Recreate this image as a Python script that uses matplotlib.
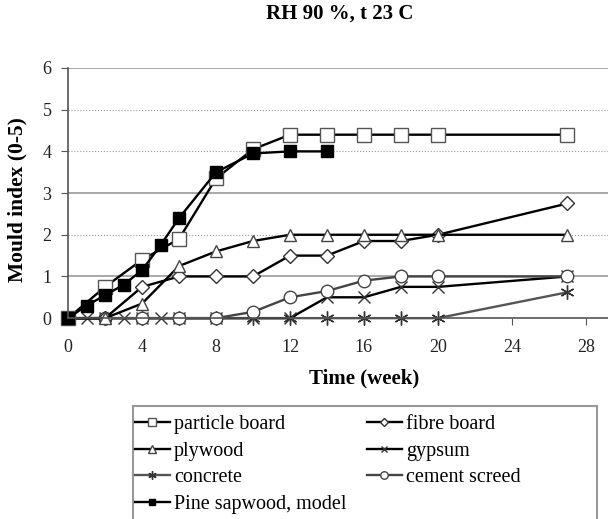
import matplotlib.pyplot as plt
from matplotlib.patches import Rectangle

plt.rcParams['font.family'] = ['Liberation Serif', 'DejaVu Serif']

# weeks and mould index per material
weeks_a = [0, 2, 4, 6, 8, 10, 12, 14, 16, 18, 20, 27]
particle = [0, 0.75, 1.4, 1.9, 3.35, 4.05, 4.4, 4.4, 4.4, 4.4, 4.4, 4.4]
fibre = [0, 0, 0.75, 1.0, 1.0, 1.0, 1.5, 1.5, 1.85, 1.85, 2.0, 2.75]
plywood = [0, 0, 0.35, 1.25, 1.6, 1.85, 2.0, 2.0, 2.0, 2.0, 2.0, 2.0]
cement = [0, 0, 0, 0, 0, 0.15, 0.5, 0.65, 0.9, 1.0, 1.0, 1.0]
concrete = [0, 0, 0, 0, 0, 0, 0, 0, 0, 0, 0, 0.62]

weeks_g = [0, 1, 2, 3, 4, 5, 6, 8, 10, 12, 14, 16, 18, 20, 27]
gypsum = [0, 0, 0, 0, 0, 0, 0, 0, 0, 0, 0.5, 0.5, 0.75, 0.75, 1.0]

weeks_p = [0, 1, 2, 3, 4, 5, 6, 8, 10, 12, 14]
pine = [0, 0.3, 0.55, 0.8, 1.15, 1.75, 2.4, 3.5, 3.95, 4.0, 4.0]

fig = plt.figure(figsize=(6.08, 5.19), dpi=100)
ax = fig.add_axes([0.112, 0.387, 0.888, 0.482])

# gridlines (mixed solid / dotted as in the scan)
for yv, ls in [(1, '-'), (2, ':'), (3, '-'), (4, ':'), (5, ':'), (6, '-')]:
    ax.axhline(yv, color='#999999', lw=1.2 if ls == '-' else 0.8, ls=ls, zorder=0)

kw = dict(lw=1.7, clip_on=False, markerfacecolor='white', markeredgewidth=1.0)
l_conc, = ax.plot(weeks_a, concrete, color='#555555', marker=(6, 2, 0), markersize=10,
                  markeredgecolor='#333333', **kw)
l_gyp, = ax.plot(weeks_g, gypsum, color='black', marker='x', markersize=8,
                 markeredgecolor='#333333', **kw)
l_cem, = ax.plot(weeks_a, cement, color='#444444', marker='o', markersize=9,
                 markeredgecolor='#444444', **kw)
l_fib, = ax.plot(weeks_a, fibre, color='black', marker='D', markersize=7,
                 markeredgecolor='#333333', **kw)
l_ply, = ax.plot(weeks_a, plywood, color='black', marker='^', markersize=9,
                 markeredgecolor='#444444', **kw)
l_par, = ax.plot(weeks_a, particle, color='black', marker='s', markersize=10,
                 markeredgecolor='#555555', **kw)
l_pine, = ax.plot(weeks_p, pine, color='black', marker='s', markeredgecolor='black', lw=1.7,
                  markersize=8, clip_on=False, markerfacecolor='black')

ax.set_xlim(0, 29.2)
ax.set_ylim(0, 6)
ax.set_xticks([0, 4, 8, 12, 16, 20, 24, 28])
ax.set_yticks([0, 1, 2, 3, 4, 5, 6])
for s in ['top', 'right']:
    ax.spines[s].set_visible(False)
ax.spines['left'].set_color('#555555')
ax.spines['bottom'].set_color('#555555')
ax.spines['left'].set_linewidth(1.2)
ax.spines['bottom'].set_linewidth(1.2)
ax.tick_params(labelsize=13, color='#555555', length=5, labelcolor='#222222')
ax.tick_params(axis='x', pad=10)
ax.tick_params(axis='y', pad=7)

ax.set_xlabel('Time (week)', fontsize=15, fontweight='bold')
ax.xaxis.set_label_coords(0.548, -0.2)
ax.set_ylabel('Mould index (0-5)', fontsize=15.5, fontweight='bold')
ax.yaxis.set_label_coords(-0.075, 0.476)
fig.text(0.558, 0.973, 'RH 90 %, t 23 C', fontsize=15, fontweight='bold', ha='center', va='center')

# legend frame drawn separately (it runs off the bottom of the figure)
fig.patches.append(Rectangle((133 / 608, -0.05), (597 - 133) / 608, 0.05 + (519 - 406) / 519,
                             transform=fig.transFigure, fill=False, edgecolor='#999999', lw=1.5))

handles = [l_par, l_ply, l_conc, l_pine, l_fib, l_gyp, l_cem]
labels = ['particle board', 'plywood', 'concrete', 'Pine sapwood, model',
          'fibre board', 'gypsum', 'cement screed']
leg = fig.legend(handles, labels, ncol=2, loc='upper left', bbox_to_anchor=(0.195, 0.232),
                 prop={'family': 'Liberation Serif', 'size': 14.5}, frameon=False,
                 handlelength=1.75, handletextpad=0.2, labelspacing=0.38, columnspacing=1.0,
                 borderpad=0.3, markerscale=0.6)

fig.savefig('out.png', dpi=100)
